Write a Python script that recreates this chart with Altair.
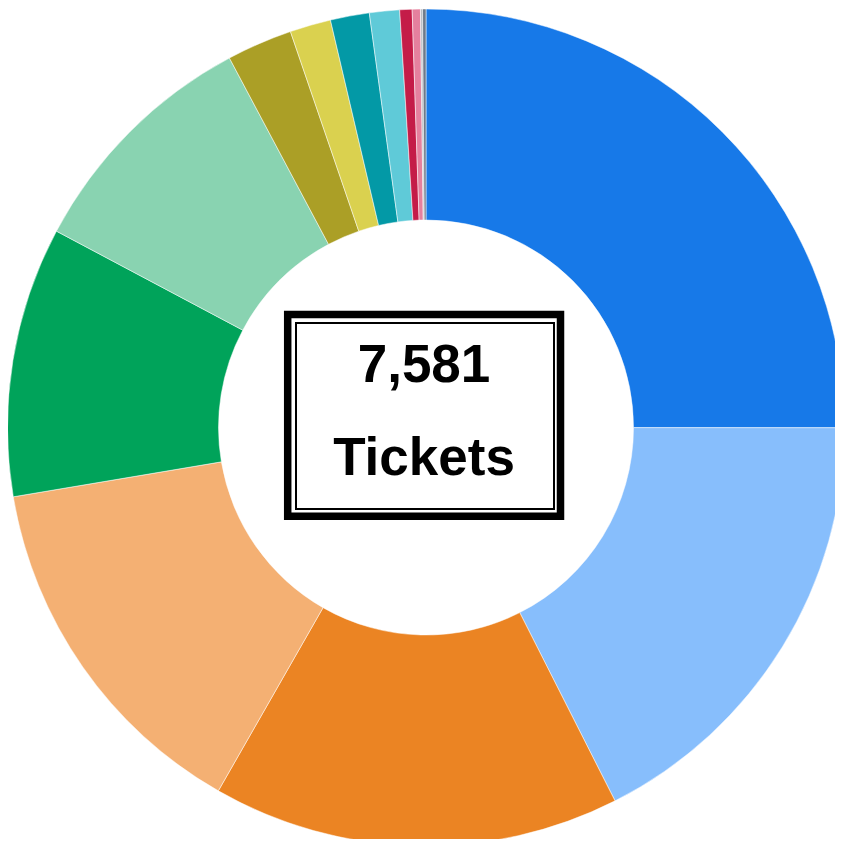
import altair as alt
import pandas as pd

categories = ["A", "B", "C", "D", "E", "F", "G", "H", "I", "J", "K", "L", "M", "N"]
values = [1896, 1329, 1192, 1068, 790, 716, 192, 120, 114, 88, 36, 24, 6, 10]
colors = ["#1779E8", "#87BEFC", "#EB8423", "#F4B073", "#00A35A", "#89D3B1",
          "#AB9F26", "#DAD14F", "#0399A6", "#5FCAD8", "#C41C48", "#E5809E",
          "#B8BDC4", "#6E7A8A"]
total_label = "7,581"
unit_label = "Tickets"

df = pd.DataFrame({"category": categories, "value": values,
                   "order": list(range(len(categories)))})

W, H = 827, 831
CX, CY = 418, 419.5

donut = alt.Chart(df).mark_arc(outerRadius=418.5, innerRadius=207.5,
                               stroke="white", strokeWidth=0.5).encode(
    theta=alt.Theta("value:Q", stack=True),
    order=alt.Order("order:Q", sort="ascending"),
    color=alt.Color("category:N", scale=alt.Scale(domain=categories, range=colors),
                    legend=None),
    x=alt.value(CX), y=alt.value(CY),
)

box_df = pd.DataFrame({"k": [0]})
outer_box = alt.Chart(box_df).mark_rect(fill="white", stroke="black", strokeWidth=7.5).encode(
    x=alt.value(279.7), x2=alt.value(552.5), y=alt.value(306.5), y2=alt.value(508.2))
inner_box = alt.Chart(box_df).mark_rect(fill="white", stroke="black", strokeWidth=2).encode(
    x=alt.value(288), x2=alt.value(546), y=alt.value(315), y2=alt.value(501))

text_df = pd.DataFrame({"t": [total_label, unit_label], "yy": [374, 467]})
texts = alt.Chart(text_df).mark_text(font="Liberation Sans", fontWeight="bold",
                                     fontSize=53, color="black", baseline="alphabetic",
                                     align="center").encode(
    text="t:N", x=alt.value(416), y=alt.Y("yy:Q", scale=None))

chart = alt.layer(donut, outer_box, inner_box, texts).properties(
    width=W, height=H, padding=0, autosize=alt.AutoSizeParams(type="none")
).configure_view(stroke=None)

chart.save("out.html", embed_options={"renderer": "svg", "actions": False})
